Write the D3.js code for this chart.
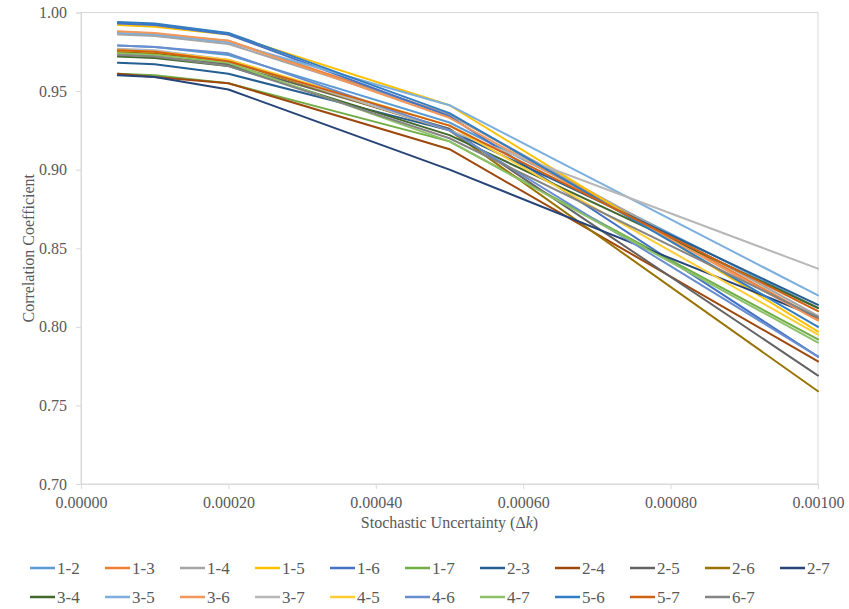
<!DOCTYPE html>
<html>
<head>
<meta charset="utf-8">
<script src="https://cdn.jsdelivr.net/npm/d3@7"></script>
<style>
  html, body { margin: 0; padding: 0; background: #fff; }
  svg { display: block; }
</style>
</head>
<body>
<svg id="chart" width="849" height="609"></svg>
<script>
// Stochastic uncertainty levels (Δk) at which the correlation was evaluated
const deltaK = [0.00005, 0.0001, 0.0002, 0.0005, 0.001];

// Station pairs
const pairs = ["1-2", "1-3", "1-4", "1-5", "1-6", "1-7", "2-3", "2-4", "2-5", "2-6", "2-7",
               "3-4", "3-5", "3-6", "3-7", "4-5", "4-6", "4-7", "5-6", "5-7", "6-7"];

// Correlation coefficient of each pair at each Δk
const r12 = [0.979, 0.978, 0.973, 0.930, 0.812];
const r13 = [0.987, 0.986, 0.982, 0.935, 0.805];
const r14 = [0.986, 0.985, 0.980, 0.935, 0.807];
const r15 = [0.992, 0.991, 0.986, 0.941, 0.797];
const r16 = [0.993, 0.992, 0.986, 0.934, 0.781];
const r17 = [0.961, 0.960, 0.955, 0.918, 0.792];
const r23 = [0.968, 0.967, 0.961, 0.925, 0.814];
const r24 = [0.961, 0.959, 0.955, 0.913, 0.778];
const r25 = [0.974, 0.973, 0.967, 0.926, 0.769];
const r26 = [0.975, 0.974, 0.969, 0.925, 0.759];
const r27 = [0.960, 0.959, 0.951, 0.900, 0.806];
const r34 = [0.972, 0.971, 0.966, 0.922, 0.812];
const r35 = [0.987, 0.986, 0.981, 0.941, 0.820];
const r36 = [0.988, 0.987, 0.982, 0.933, 0.804];
const r37 = [0.977, 0.976, 0.970, 0.925, 0.837];
const r45 = [0.976, 0.975, 0.970, 0.928, 0.795];
const r46 = [0.979, 0.978, 0.974, 0.925, 0.781];
const r47 = [0.974, 0.973, 0.968, 0.918, 0.790];
const r56 = [0.994, 0.993, 0.987, 0.936, 0.800];
const r57 = [0.976, 0.975, 0.969, 0.928, 0.810];
const r67 = [0.973, 0.972, 0.966, 0.920, 0.806];

const values = [r12, r13, r14, r15, r16, r17, r23, r24, r25, r26, r27,
                r34, r35, r36, r37, r45, r46, r47, r56, r57, r67];

const colors = ["#5B9BD5", "#ED7D31", "#A5A5A5", "#FFC000", "#4472C4", "#70AD47",
                "#255E91", "#9E480E", "#636363", "#997300", "#264478",
                "#43682B", "#7CAFDD", "#F1975A", "#B7B7B7", "#FFCD33", "#698ED0",
                "#8CC168", "#327DC2", "#D26012", "#848484"];

const xTicks = [0, 0.0002, 0.0004, 0.0006, 0.0008, 0.001];
const yTicks = [0.70, 0.75, 0.80, 0.85, 0.90, 0.95, 1.00];

const FONT = "Liberation Serif";
const TEXT = "#595959";

const svg = d3.select("#chart")
  .attr("font-family", FONT);
const plot = { left: 81, right: 818, top: 12.5, bottom: 484 };

const x = d3.scaleLinear().domain([0, 0.001]).range([plot.left, plot.right]);
const y = d3.scaleLinear().domain([0.70, 1.00]).range([plot.bottom, plot.top]);

const axisColor = "#D9D9D9";

// Plot area frame
svg.append("rect")
  .attr("x", plot.left).attr("y", plot.top)
  .attr("width", plot.right - plot.left).attr("height", plot.bottom - plot.top)
  .attr("fill", "none").attr("stroke", axisColor).attr("stroke-width", 1);

// Axes
const xAxis = svg.append("g")
  .attr("transform", `translate(0,${plot.bottom})`)
  .call(d3.axisBottom(x).tickValues(xTicks).tickFormat(d3.format(".5f")).tickSize(5).tickPadding(8));
const yAxis = svg.append("g")
  .attr("transform", `translate(${plot.left},0)`)
  .call(d3.axisLeft(y).tickValues(yTicks).tickFormat(d3.format(".2f")).tickSize(5).tickPadding(9));

[xAxis, yAxis].forEach(g => {
  g.attr("font-family", FONT).attr("font-size", 16);
  g.select(".domain").attr("stroke", axisColor);
  g.selectAll(".tick line").attr("stroke", axisColor);
  g.selectAll(".tick text").attr("fill", TEXT).attr("font-family", FONT);
});

// Series lines
const line = d3.line()
  .x((d, i) => x(deltaK[i]))
  .y(d => y(d));

svg.append("g")
  .selectAll("path")
  .data(values)
  .join("path")
  .attr("d", d => line(d))
  .attr("fill", "none")
  .attr("stroke", (d, i) => colors[i])
  .attr("stroke-width", 2)
  .attr("stroke-linejoin", "round")
  .attr("stroke-linecap", "round");

// Axis titles
svg.append("text")
  .attr("transform", `translate(28,${(plot.top + plot.bottom) / 2}) rotate(-90)`)
  .attr("text-anchor", "middle")
  .attr("dominant-baseline", "central")
  .attr("font-family", FONT)
  .attr("font-size", 16)
  .attr("fill", TEXT)
  .text("Correlation Coefficient");

const xt = svg.append("text")
  .attr("x", (plot.left + plot.right) / 2)
  .attr("y", 528)
  .attr("text-anchor", "middle")
  .attr("font-family", FONT)
  .attr("font-size", 16)
  .attr("fill", TEXT);
xt.append("tspan").text("Stochastic Uncertainty (Δ");
xt.append("tspan").attr("font-style", "italic").text("k");
xt.append("tspan").text(")");

// Legend: two rows of 11
const legend = svg.append("g");
const item = legend.selectAll("g")
  .data(pairs)
  .join("g")
  .attr("transform", (d, i) => `translate(${30 + (i % 11) * 75},${i < 11 ? 568 : 597})`);
item.append("line")
  .attr("x1", 0).attr("x2", 25).attr("y1", 0).attr("y2", 0)
  .attr("stroke", (d, i) => colors[i])
  .attr("stroke-width", 2.5);
item.append("text")
  .attr("x", 27).attr("y", 0)
  .attr("dominant-baseline", "central")
  .attr("font-family", FONT)
  .attr("font-size", 17)
  .attr("fill", TEXT)
  .text(d => d);
</script>
</body>
</html>
